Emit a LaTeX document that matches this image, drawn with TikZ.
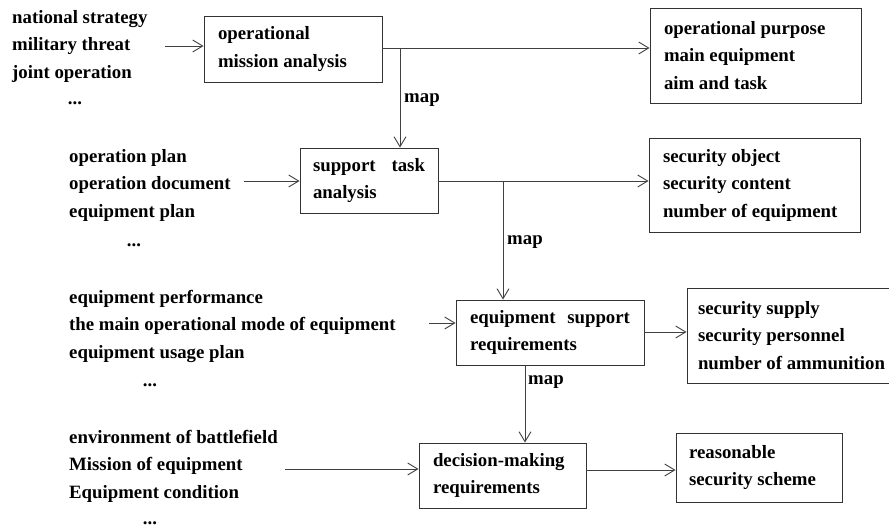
\documentclass[tikz,border=0pt]{standalone}
\usepackage{fontspec}
\setmainfont{Liberation Serif}
\usetikzlibrary{arrows.meta}
\tikzset{
  boxnode/.style={draw=black!80, line width=0.9pt, rectangle, inner ysep=0pt, align=flush left},
  intext/.style={anchor=west, inner sep=0pt, align=left},
  dots/.style={inner sep=0pt},
  maplabel/.style={anchor=west, inner sep=0pt},
  conn/.style={draw=black!75, line width=0.9pt},
  arr/.style={conn, -{Straight Barb[length=10pt,width=12pt,line width=0.9pt]}}
}
\begin{document}
\begin{tikzpicture}[x=1pt,y=-1pt, font=\bfseries\fontsize{18.8}{27.5}\selectfont]
\useasboundingbox (0,0) rectangle (889,528);

% main boxes
\node[boxnode, minimum width=178pt, minimum height=66pt, inner xsep=14pt, text width=150pt] (b1) at (293,49) {operational\\mission analysis};
\node[boxnode, minimum width=138pt, minimum height=65pt, inner xsep=13pt, text width=112pt] (b3) at (369,180.5) {\hbox to 112pt{support\hfill task}\\analysis};
\node[boxnode, minimum width=188pt, minimum height=65pt, inner xsep=14pt, text width=160pt] (b5) at (550,332.5) {\hbox to 160pt{equipment\hfill support}\\requirements};
\node[boxnode, minimum width=167pt, minimum height=65pt, inner xsep=14pt, text width=139pt] (b7) at (502.5,475.5) {decision-making\\requirements};

% result boxes
\node[boxnode, minimum width=211pt, minimum height=95pt, inner xsep=14pt, text width=183pt] (b2) at (755.5,55.5) {operational purpose\\main equipment\\aim and task};
\node[boxnode, minimum width=211pt, minimum height=94pt, inner xsep=14pt, text width=183pt] (b4) at (754.5,185) {security object\\security content\\number of equipment};
\node[boxnode, minimum width=220pt, minimum height=95pt, inner xsep=11pt, text width=198pt] (b6) at (797,335.5) {security supply\\security personnel\\number of ammunition};
\node[boxnode, minimum width=166pt, minimum height=69pt, inner xsep=13pt, text width=140pt] (b8) at (759,467.5) {reasonable\\security scheme};

% input texts
\node[intext] (t1) at (12,46) {national strategy\\military threat\\joint operation};
\node[dots] (d1) at (75,103) {...};
\node[intext] (t2) at (69,185) {operation plan\\operation document\\equipment plan};
\node[dots] (d2) at (134,245) {...};
\node[intext] (t3) at (69,326) {equipment performance\\the main operational mode of equipment\\equipment usage plan};
\node[dots] (d3) at (150,385) {...};
\node[intext] (t4) at (69,466) {environment of battlefield\\Mission of equipment\\Equipment condition};
\node[dots] (d4) at (150,523) {...};

% helper coordinates
\coordinate (i1) at (165,46);
\coordinate (i2) at (244,181);
\coordinate (i3) at (429,323);
\coordinate (i4) at (285,469);
\coordinate (j1) at (400,48);
\coordinate (j2) at (503,181);
\coordinate (j3) at (525,0);
\coordinate (r3) at (0,332);
\coordinate (r4) at (0,470);

% input arrows
\draw[arr] (i1) -- (i1 -| b1.west);
\draw[arr] (i2) -- (i2 -| b3.west);
\draw[arr] (i3) -- (i3 -| b5.west);
\draw[arr] (i4) -- (i4 -| b7.west);

% output arrows
\draw[arr] (j1 -| b1.east) -- (j1 -| b2.west);
\draw[arr] (j2 -| b3.east) -- (j2 -| b4.west);
\draw[arr] (r3 -| b5.east) -- (r3 -| b6.west);
\draw[arr] (r4 -| b7.east) -- (r4 -| b8.west);

% map arrows
\draw[arr] (j1) -- (j1 |- b3.north);
\draw[arr] (j2) -- (j2 |- b5.north);
\draw[arr] (j3 |- b5.south) -- (j3 |- b7.north);

\node[maplabel] (m1) at (404,100) {map};
\node[maplabel] (m2) at (507,242) {map};
\node[maplabel] (m3) at (528,382) {map};
\end{tikzpicture}
\end{document}
